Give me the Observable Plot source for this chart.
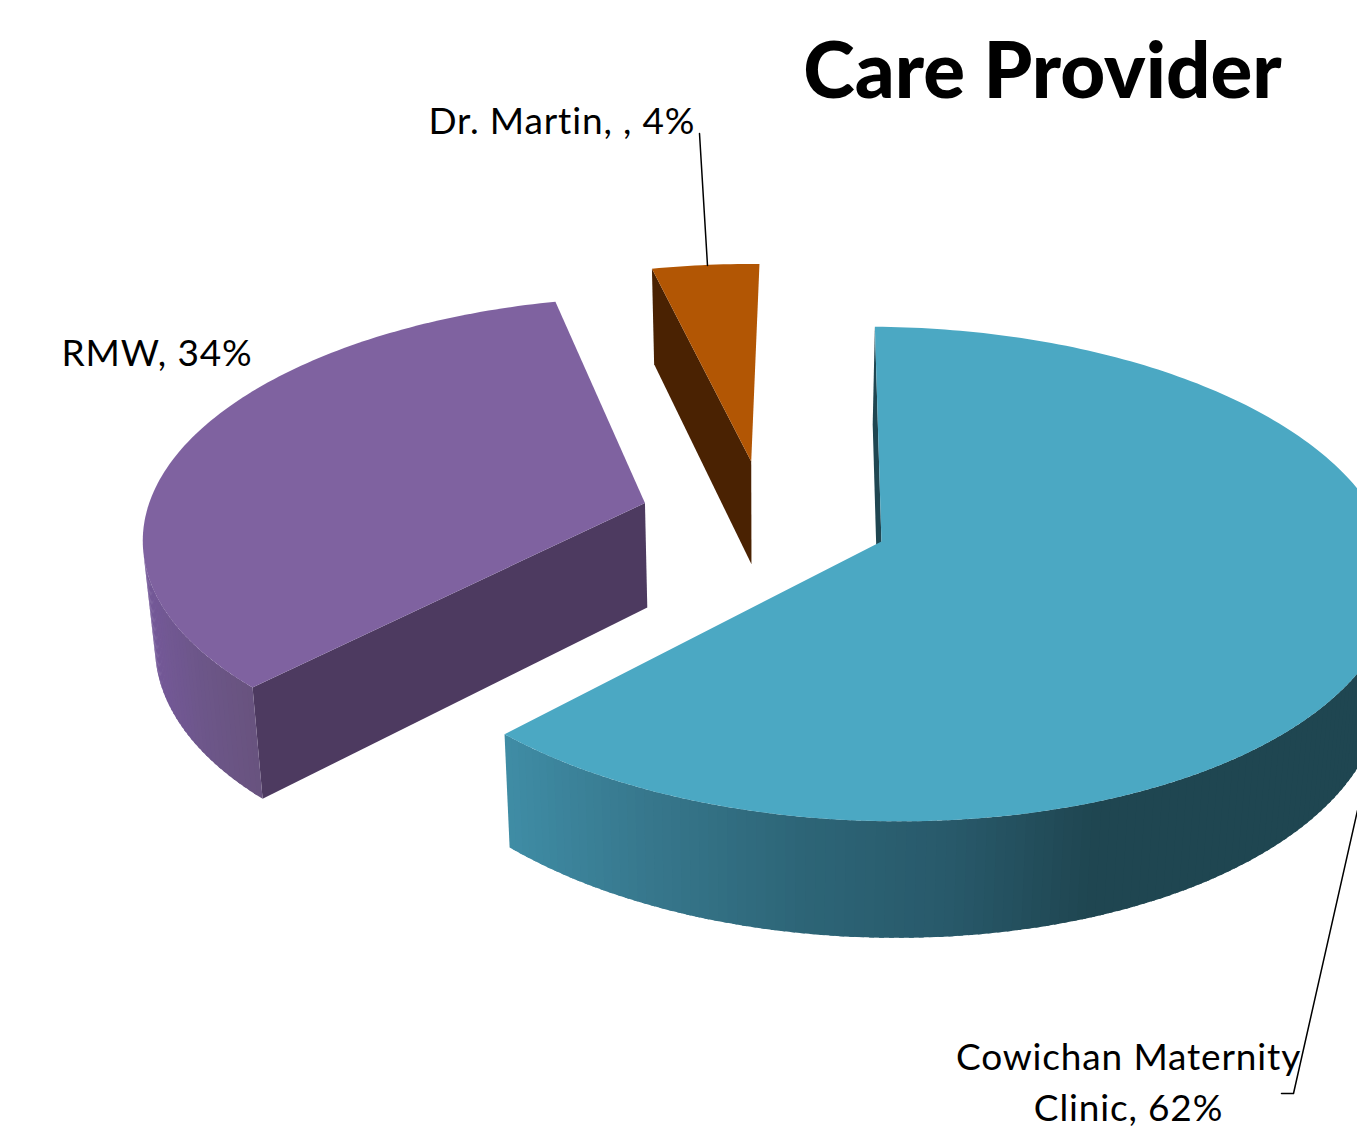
<!DOCTYPE html>
<html>
<head>
<meta charset="utf-8">
<script src="https://cdn.jsdelivr.net/npm/d3@7"></script>
<script src="https://cdn.jsdelivr.net/npm/@observablehq/plot@0.6"></script>
<style>
  html, body { margin: 0; padding: 0; background: #fff; overflow: hidden; }
  svg { display: block; }
  svg text { font-variant-ligatures: none; }
</style>
</head>
<body>
<script>
// Care provider shares, drawn clockwise from the pie's first-slice angle.
const providers = ["Cowichan Maternity Clinic", "RMW", "Dr. Martin"];
const shares = [62, 34, 4];

// Face colours per provider.
const topColors = ["#4ba8c3", "#7f62a0", "#b25604"];
const cutColors = ["#1f4651", "#4d3a60", "#4a2202"];

// Shading of the curved rim, keyed by screen x.
const rimStops = [
  [[504, 640, 800, 950, 1090, 1400], ["#3f8ca5", "#37788d", "#2d6577", "#28596a", "#1f4651", "#1f4651"]],
  [[140, 200, 250], ["#75599a", "#6c5688", "#68537f"]],
  [[0, 1400], ["#4a2202", "#4a2202"]]
];

const titleText = ["Care Provider"];
const labelText = ["Dr. Martin, , 4%", "RMW, 34%", "Cowichan Maternity", "Clinic, 62%"];

// Camera and slice geometry for the tilted, exploded pie.
const view = {cx: 764, cy: 518, rx: 500, ry: 237, persp: 0.13, explode: 0.25, depth: 105, sink: 0.02, firstAngle: 0.9};

function project(u, v, level) {
  const w = 1 - view.persp * v;
  const s = level ? 1 + view.sink : 1;
  return {
    x: view.cx + view.rx * u / (w * s),
    y: view.cy + view.ry * v / (w * s) + (level ? view.depth / w : 0)
  };
}

const TAU = Math.PI * 2;
const total = d3.sum(shares);
const offset = view.firstAngle / 360 * TAU;
let running = 0;
const slices = shares.map((share, i) => {
  const a0 = offset + running / total * TAU;
  running += share;
  const a1 = offset + running / total * TAU;
  const mid = (a0 + a1) / 2;
  return {i, a0, a1, ox: Math.sin(mid) * view.explode, oy: -Math.cos(mid) * view.explode};
});

const onRim = (s, a, level) => project(s.ox + Math.sin(a), s.oy - Math.cos(a), level);
const apex = (s, level) => project(s.ox, s.oy, level);

// Screen-space winding; rim quads facing away from the camera come out positive.
const winding = pts => d3.sum(pts, (p, i) => {
  const q = pts[(i + 1) % pts.length];
  return p.x * q.y - q.x * p.y;
});

// Every face becomes one group of rows for a filled line mark.
const faces = [];
let faceId = 0;
function addFace(points, color) {
  faceId++;
  for (const p of points) faces.push({id: faceId, x: p.x, y: p.y, color});
}

// Back slices go first so nearer ones can overlap them.
for (const s of [slices[2], slices[1], slices[0]]) {
  const shade = d3.scaleLinear().domain(rimStops[s.i][0]).range(rimStops[s.i][1]).clamp(true);
  const stepSize = TAU / 360;
  const steps = Math.max(2, Math.ceil((s.a1 - s.a0) / stepSize));
  const angles = d3.range(steps + 1).map(k => s.a0 + (s.a1 - s.a0) * k / steps);

  // only the leading cut of a clockwise slice ever faces this camera
  addFace([apex(s, 0), onRim(s, s.a0, 0), onRim(s, s.a0, 1), apex(s, 1)], cutColors[s.i]);

  // curved rim, one overlapping quad per degree so no seams show
  for (let k = 0; k < steps; k++) {
    const end = Math.min(angles[k + 1] + stepSize / 2, s.a1);
    const quad = [onRim(s, angles[k], 0), onRim(s, end, 0), onRim(s, end, 1), onRim(s, angles[k], 1)];
    if (winding(quad) < 0) addFace(quad, shade((quad[0].x + quad[1].x) / 2));
  }

  // top face
  addFace([apex(s, 0), ...angles.map(a => onRim(s, a, 0))], topColors[s.i]);
}

// Leader lines from two of the labels towards their slices.
const leaders = [
  {id: "martin", x: 699, y: 133}, {id: "martin", x: 707, y: 265},
  {id: "clinic", x: 1281, y: 1093}, {id: "clinic", x: 1293, y: 1093}, {id: "clinic", x: 1357, y: 810}
];

const labels = [
  {text: labelText[0], x: 428, y: 133, anchor: "start"},
  {text: labelText[1], x: 61, y: 365, anchor: "start"},
  {text: labelText[2], x: 1128, y: 1069, anchor: "middle"},
  {text: labelText[3], x: 1128, y: 1120, anchor: "middle"}
];

const chart = Plot.plot({
  width: 1357,
  height: 1144,
  margin: 0,
  x: {domain: [0, 1357], range: [0, 1357], axis: null},
  y: {domain: [0, 1144], range: [0, 1144], axis: null},
  color: {type: "identity"},
  style: {background: "#fff", fontFamily: "Lato, sans-serif"},
  marks: [
    Plot.line(faces, {x: "x", y: "y", z: "id", fill: "color", stroke: "none"}),
    Plot.line(leaders, {x: "x", y: "y", z: "id", stroke: "#000", strokeWidth: 1.5}),
    Plot.text(labels, {
      filter: d => d.anchor === "start",
      x: "x", y: "y", text: "text", textAnchor: "start", lineAnchor: "bottom",
      fontSize: 37, fill: "#000", fontFamily: "Lato, sans-serif"
    }),
    Plot.text(labels, {
      filter: d => d.anchor === "middle",
      x: "x", y: "y", text: "text", textAnchor: "middle", lineAnchor: "bottom",
      fontSize: 37, fill: "#000", fontFamily: "Lato, sans-serif"
    }),
    Plot.text(titleText, {
      x: () => 1042, y: () => 97, text: d => d, textAnchor: "middle", lineAnchor: "bottom",
      fontSize: 78, fontWeight: 900, fill: "#000", fontFamily: "Lato, sans-serif"
    })
  ]
});

// Open the label tracking up a little; the title keeps its natural spacing.
d3.select(chart).selectAll("text")
  .filter(function () { return labelText.includes(this.textContent); })
  .style("letter-spacing", "0.85px");

document.body.appendChild(chart);
</script>
</body>
</html>
